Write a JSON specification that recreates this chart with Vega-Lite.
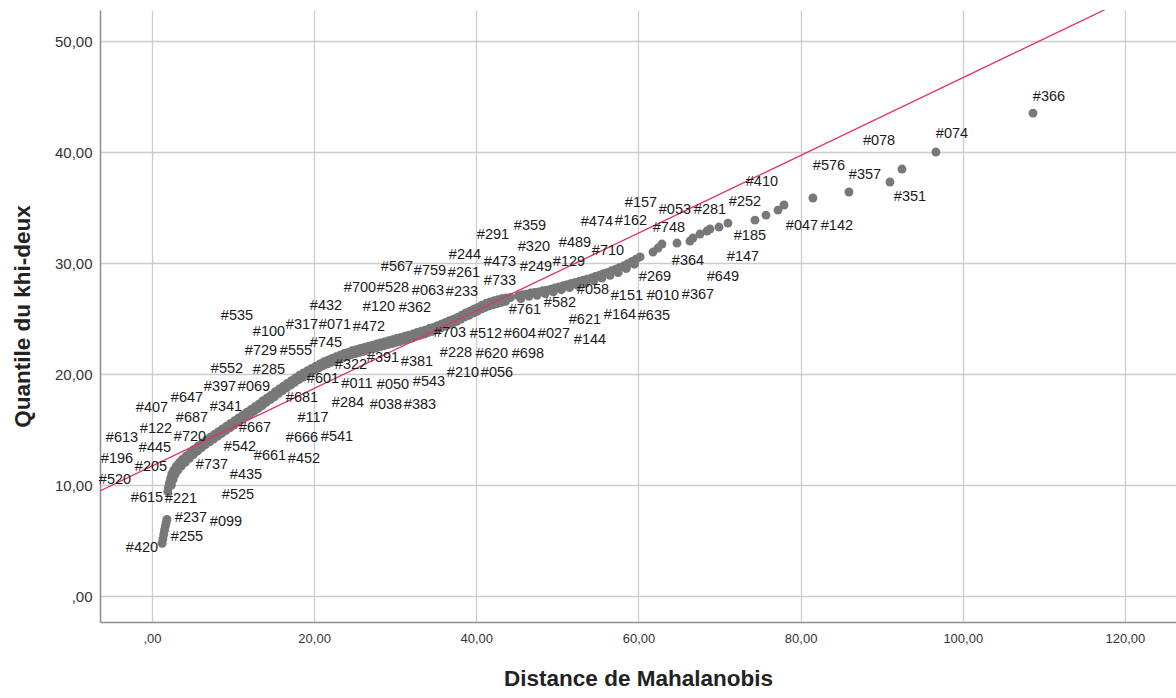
{
  "$schema": "https://vega.github.io/schema/vega-lite/v6.json",
  "width": 1076,
  "height": 612,
  "autosize": {"type": "none"},
  "padding": {"left": 100, "top": 10, "right": 0, "bottom": 76},
  "background": "white",
  "config": {
    "view": {"stroke": null},
    "axis": {
      "domainColor": "#8c8c8c",
      "domainWidth": 1.5,
      "gridColor": "#cccccc",
      "gridWidth": 1.3,
      "ticks": false,
      "labelFont": "Liberation Sans",
      "labelColor": "#333333",
      "titleFont": "Liberation Sans",
      "titleFontWeight": "bold",
      "titleColor": "#222222"
    }
  },
  "datasets": {
    "pts": [
      {"x":1.25,"y":4.75},{"x":1.35,"y":5.15},{"x":1.45,"y":5.55},{"x":1.55,"y":5.95},{"x":1.65,"y":6.3},{"x":1.75,"y":6.6},{"x":1.85,"y":6.9},
      {"x":1.95,"y":9.4},{"x":2.05,"y":9.8},{"x":2.15,"y":10.2},{"x":2.3,"y":10.6},{"x":2.45,"y":11.0},{"x":2.7,"y":11.35},{"x":3.0,"y":11.7},{"x":3.35,"y":12.0},{"x":3.75,"y":12.3},{"x":4.2,"y":12.6},{"x":4.7,"y":12.9},{"x":5.2,"y":13.2},{"x":5.7,"y":13.5},{"x":6.2,"y":13.8},{"x":6.7,"y":14.05},{"x":7.2,"y":14.3},{"x":7.7,"y":14.55},{"x":8.2,"y":14.8},{"x":8.7,"y":15.05},{"x":9.2,"y":15.3},{"x":9.7,"y":15.55},{"x":10.2,"y":15.8},{"x":10.7,"y":16.05},{"x":11.2,"y":16.3},{"x":11.7,"y":16.55},{"x":12.2,"y":16.8},{"x":12.7,"y":17.05},{"x":13.2,"y":17.3},{"x":13.7,"y":17.6},{"x":14.2,"y":17.85},{"x":14.7,"y":18.1},{"x":15.2,"y":18.4},{"x":15.7,"y":18.65},{"x":16.2,"y":18.9},{"x":16.7,"y":19.15},{"x":17.2,"y":19.4},{"x":17.7,"y":19.65},{"x":18.2,"y":19.9},{"x":18.7,"y":20.1},{"x":19.2,"y":20.3},{"x":19.7,"y":20.5},{"x":20.2,"y":20.7},{"x":20.7,"y":20.9},{"x":21.2,"y":21.1},{"x":21.7,"y":21.25},{"x":22.2,"y":21.4},{"x":22.7,"y":21.55},{"x":23.2,"y":21.7},{"x":23.7,"y":21.85},{"x":24.2,"y":21.95},{"x":24.7,"y":22.1},{"x":25.2,"y":22.2},{"x":25.7,"y":22.3},{"x":26.2,"y":22.4},{"x":26.7,"y":22.5},{"x":27.2,"y":22.6},{"x":27.7,"y":22.7},{"x":28.2,"y":22.8},{"x":28.7,"y":22.9},{"x":29.2,"y":23.0},{"x":29.7,"y":23.1},{"x":30.2,"y":23.2},{"x":30.7,"y":23.3},{"x":31.2,"y":23.4},{"x":31.7,"y":23.5},{"x":32.2,"y":23.6},{"x":32.7,"y":23.75},{"x":33.2,"y":23.85},{"x":33.7,"y":23.95},{"x":34.2,"y":24.1},{"x":34.7,"y":24.2},{"x":35.2,"y":24.35},{"x":35.7,"y":24.5},{"x":36.2,"y":24.65},{"x":36.7,"y":24.8},{"x":37.2,"y":24.95},{"x":37.7,"y":25.1},{"x":38.2,"y":25.3},{"x":38.7,"y":25.5},{"x":39.2,"y":25.65},{"x":39.7,"y":25.85},{"x":40.2,"y":26.0},{"x":40.7,"y":26.2},{"x":41.2,"y":26.35},{"x":41.7,"y":26.5},{"x":42.2,"y":26.6},{"x":42.7,"y":26.7},{"x":43.2,"y":26.8},{"x":43.7,"y":26.85},{"x":44.2,"y":26.9},
      {"x":2.4,"y":10.0},{"x":2.6,"y":10.5},{"x":2.85,"y":10.95},{"x":3.2,"y":11.35},{"x":3.6,"y":11.7},{"x":4.1,"y":12.05},{"x":4.6,"y":12.4},{"x":5.1,"y":12.75},{"x":5.6,"y":13.05},{"x":6.1,"y":13.35},{"x":6.6,"y":13.65},{"x":7.1,"y":13.9},{"x":7.6,"y":14.15},{"x":8.1,"y":14.4},{"x":8.6,"y":14.65},{"x":9.1,"y":14.9},{"x":9.6,"y":15.15},{"x":10.1,"y":15.4},{"x":10.6,"y":15.65},{"x":11.1,"y":15.9},{"x":11.6,"y":16.15},{"x":12.1,"y":16.4},{"x":12.6,"y":16.65},{"x":13.1,"y":16.9},{"x":13.6,"y":17.15},{"x":14.1,"y":17.45},{"x":14.6,"y":17.7},{"x":15.1,"y":17.95},{"x":15.6,"y":18.25},{"x":16.1,"y":18.5},{"x":16.6,"y":18.75},{"x":17.1,"y":19.0},{"x":17.6,"y":19.25},{"x":18.1,"y":19.5},{"x":18.6,"y":19.7},{"x":19.1,"y":19.95},{"x":19.6,"y":20.15},{"x":20.1,"y":20.35},{"x":20.6,"y":20.55},{"x":21.1,"y":20.75},{"x":21.6,"y":20.9},{"x":22.1,"y":21.05},{"x":22.6,"y":21.2},{"x":23.1,"y":21.35},{"x":23.6,"y":21.5},{"x":24.1,"y":21.6},{"x":24.6,"y":21.75},{"x":25.1,"y":21.85},{"x":25.6,"y":21.95},{"x":26.1,"y":22.05},{"x":26.6,"y":22.15},{"x":27.1,"y":22.25},{"x":27.6,"y":22.35},{"x":28.1,"y":22.45},{"x":28.6,"y":22.55},{"x":29.1,"y":22.65},{"x":29.6,"y":22.75},{"x":30.1,"y":22.85},{"x":30.6,"y":22.95},{"x":31.1,"y":23.05},{"x":31.6,"y":23.15},{"x":32.1,"y":23.25},{"x":32.6,"y":23.4},{"x":33.1,"y":23.5},{"x":33.6,"y":23.6},{"x":34.1,"y":23.75},{"x":34.6,"y":23.85},{"x":35.1,"y":24.0},{"x":35.6,"y":24.15},{"x":36.1,"y":24.3},{"x":36.6,"y":24.45},{"x":37.1,"y":24.6},{"x":37.6,"y":24.75},{"x":38.1,"y":24.95},{"x":38.6,"y":25.15},{"x":39.1,"y":25.3},{"x":39.6,"y":25.5},{"x":40.1,"y":25.65},{"x":40.6,"y":25.85},{"x":41.1,"y":26.0},{"x":41.6,"y":26.15},{"x":42.1,"y":26.25},{"x":42.6,"y":26.35},{"x":43.1,"y":26.45},{"x":43.6,"y":26.55},
      {"x":45.2,"y":27.05},{"x":45.7,"y":27.15},{"x":46.2,"y":27.2},{"x":46.7,"y":27.3},{"x":47.2,"y":27.35},{"x":47.7,"y":27.4},{"x":48.2,"y":27.5},{"x":48.7,"y":27.55},{"x":49.2,"y":27.65},{"x":49.7,"y":27.75},{"x":50.2,"y":27.85},{"x":50.7,"y":27.95},{"x":51.2,"y":28.05},{"x":51.7,"y":28.15},{"x":52.2,"y":28.25},{"x":52.7,"y":28.35},{"x":53.2,"y":28.45},{"x":53.7,"y":28.55},{"x":54.2,"y":28.65},{"x":54.7,"y":28.8},{"x":55.2,"y":28.9},{"x":55.7,"y":29.05},{"x":56.2,"y":29.15},{"x":56.7,"y":29.3},{"x":57.2,"y":29.45},{"x":57.7,"y":29.6},{"x":58.2,"y":29.75},{"x":58.7,"y":29.95},{"x":59.2,"y":30.15},{"x":59.7,"y":30.35},{"x":60.2,"y":30.55},
      {"x":45.5,"y":26.8},{"x":46.5,"y":27.0},{"x":47.5,"y":27.1},{"x":48.5,"y":27.25},{"x":49.5,"y":27.4},{"x":50.5,"y":27.6},{"x":51.5,"y":27.8},{"x":52.5,"y":28.0},{"x":53.5,"y":28.2},{"x":54.5,"y":28.4},{"x":55.5,"y":28.65},{"x":56.5,"y":28.9},{"x":57.5,"y":29.15},{"x":58.5,"y":29.5},{"x":59.5,"y":29.9},
      {"x":61.79,"y":30.99},{"x":62.41,"y":31.35},{"x":62.9,"y":31.71},{"x":64.75,"y":31.8},{"x":66.35,"y":31.98},{"x":66.72,"y":32.25},{"x":67.59,"y":32.61},{"x":68.45,"y":32.88},{"x":68.82,"y":33.06},{"x":69.93,"y":33.24},{"x":71.04,"y":33.6},{"x":74.37,"y":33.87},{"x":75.73,"y":34.32},{"x":77.21,"y":34.77},{"x":77.95,"y":35.23},{"x":81.52,"y":35.86},{"x":85.96,"y":36.4},{"x":91.02,"y":37.3},{"x":92.5,"y":38.47},{"x":96.69,"y":40.0},{"x":108.66,"y":43.51}
    ],
    "ref": [
      {"x":-6.41,"y":9.46},{"x":126.3,"y":55.9}
    ],
    "labs": [
      {"lab":"#366","x":110.63,"y":44.95},{"lab":"#078","x":89.67,"y":40.99},{"lab":"#074","x":98.67,"y":41.62},{"lab":"#576","x":83.5,"y":38.74},{"lab":"#357","x":87.94,"y":37.93},{"lab":"#351","x":93.49,"y":35.95},{"lab":"#410","x":75.23,"y":37.3},{"lab":"#252","x":73.14,"y":35.5},{"lab":"#157","x":60.31,"y":35.41},{"lab":"#053","x":64.5,"y":34.77},{"lab":"#281","x":68.82,"y":34.77},{"lab":"#047","x":80.17,"y":33.33},{"lab":"#142","x":84.48,"y":33.33},{"lab":"#474","x":54.88,"y":33.69},{"lab":"#162","x":59.08,"y":33.78},{"lab":"#748","x":63.76,"y":33.15},{"lab":"#185","x":73.75,"y":32.43},{"lab":"#291","x":42.06,"y":32.52},{"lab":"#359","x":46.62,"y":33.33},{"lab":"#320","x":47.11,"y":31.44},{"lab":"#489","x":52.17,"y":31.8},{"lab":"#710","x":56.24,"y":31.08},{"lab":"#244","x":38.6,"y":30.72},{"lab":"#473","x":42.92,"y":30.09},{"lab":"#249","x":47.36,"y":29.64},{"lab":"#129","x":51.43,"y":30.09},{"lab":"#147","x":72.89,"y":30.54},{"lab":"#364","x":66.11,"y":30.18},{"lab":"#567","x":30.22,"y":29.64},{"lab":"#759","x":34.29,"y":29.28},{"lab":"#261","x":38.48,"y":29.1},{"lab":"#269","x":62.04,"y":28.74},{"lab":"#649","x":70.42,"y":28.74},{"lab":"#733","x":42.92,"y":28.38},{"lab":"#700","x":25.65,"y":27.75},{"lab":"#528","x":29.72,"y":27.75},{"lab":"#063","x":34.04,"y":27.48},{"lab":"#233","x":38.23,"y":27.39},{"lab":"#058","x":54.39,"y":27.57},{"lab":"#151","x":58.58,"y":27.03},{"lab":"#010","x":63.02,"y":27.03},{"lab":"#367","x":67.34,"y":27.12},{"lab":"#582","x":50.32,"y":26.4},{"lab":"#761","x":46.0,"y":25.77},{"lab":"#432","x":21.46,"y":26.13},{"lab":"#120","x":28.0,"y":26.04},{"lab":"#362","x":32.44,"y":25.95},{"lab":"#535","x":10.48,"y":25.23},{"lab":"#164","x":57.72,"y":25.32},{"lab":"#635","x":61.91,"y":25.23},{"lab":"#621","x":53.4,"y":24.86},{"lab":"#317","x":18.5,"y":24.41},{"lab":"#071","x":22.57,"y":24.41},{"lab":"#472","x":26.76,"y":24.23},{"lab":"#100","x":14.43,"y":23.78},{"lab":"#703","x":36.75,"y":23.69},{"lab":"#512","x":41.19,"y":23.6},{"lab":"#604","x":45.39,"y":23.6},{"lab":"#027","x":49.58,"y":23.6},{"lab":"#144","x":54.02,"y":23.06},{"lab":"#745","x":21.46,"y":22.79},{"lab":"#729","x":13.44,"y":22.07},{"lab":"#555","x":17.76,"y":22.07},{"lab":"#228","x":37.49,"y":21.89},{"lab":"#620","x":41.93,"y":21.8},{"lab":"#698","x":46.37,"y":21.8},{"lab":"#391","x":28.49,"y":21.44},{"lab":"#381","x":32.68,"y":21.08},{"lab":"#322","x":24.54,"y":20.81},{"lab":"#552","x":9.25,"y":20.45},{"lab":"#285","x":14.43,"y":20.36},{"lab":"#210","x":38.36,"y":20.09},{"lab":"#056","x":42.55,"y":20.09},{"lab":"#601","x":21.09,"y":19.55},{"lab":"#543","x":34.16,"y":19.28},{"lab":"#011","x":25.28,"y":19.1},{"lab":"#050","x":29.72,"y":19.01},{"lab":"#397","x":8.39,"y":18.83},{"lab":"#069","x":12.58,"y":18.83},{"lab":"#647","x":4.32,"y":17.84},{"lab":"#681","x":18.5,"y":17.84},{"lab":"#284","x":24.17,"y":17.39},{"lab":"#038","x":28.86,"y":17.21},{"lab":"#383","x":33.05,"y":17.21},{"lab":"#407","x":0.0,"y":16.94},{"lab":"#341","x":9.13,"y":17.03},{"lab":"#117","x":19.86,"y":16.04},{"lab":"#687","x":4.93,"y":16.04},{"lab":"#122","x":0.49,"y":15.05},{"lab":"#667","x":12.7,"y":15.14},{"lab":"#720","x":4.69,"y":14.32},{"lab":"#613","x":-3.7,"y":14.23},{"lab":"#666","x":18.5,"y":14.23},{"lab":"#541","x":22.82,"y":14.32},{"lab":"#445","x":0.37,"y":13.33},{"lab":"#542","x":10.85,"y":13.42},{"lab":"#661","x":14.55,"y":12.61},{"lab":"#452","x":18.75,"y":12.34},{"lab":"#196","x":-4.32,"y":12.34},{"lab":"#205","x":-0.12,"y":11.62},{"lab":"#737","x":7.4,"y":11.8},{"lab":"#435","x":11.59,"y":10.9},{"lab":"#520","x":-4.56,"y":10.45},{"lab":"#525","x":10.61,"y":9.1},{"lab":"#615","x":-0.62,"y":8.83},{"lab":"#221","x":3.58,"y":8.74},{"lab":"#237","x":4.81,"y":7.03},{"lab":"#099","x":9.13,"y":6.67},{"lab":"#255","x":4.32,"y":5.32},{"lab":"#420","x":-1.23,"y":4.32}
    ]
  },
  "encoding": {
    "x": {
      "field": "x", "type": "quantitative",
      "scale": {"domain": [-6.41, 126.3], "nice": false, "zero": false},
      "axis": {
        "title": "Distance de Mahalanobis",
        "values": [0, 20, 40, 60, 80, 100, 120],
        "labelExpr": "datum.value == 0 ? ',00' : replace(format(datum.value, '.2f'), '.', ',')",
        "labelFontSize": 13,
        "labelPadding": 10,
        "titleFontSize": 22.5,
        "titlePadding": 22
      }
    },
    "y": {
      "field": "y", "type": "quantitative",
      "scale": {"domain": [-2.34, 52.8], "nice": false, "zero": false},
      "axis": {
        "title": "Quantile du khi-deux",
        "values": [0, 10, 20, 30, 40, 50],
        "labelExpr": "datum.value == 0 ? ',00' : replace(format(datum.value, '.2f'), '.', ',')",
        "labelFontSize": 15,
        "labelPadding": 8,
        "titleFontSize": 22.5,
        "titlePadding": 20
      }
    }
  },
  "layer": [
    {
      "data": {"name": "pts"},
      "mark": {"type": "circle", "size": 80, "color": "#787878", "opacity": 1}
    },
    {
      "data": {"name": "ref"},
      "mark": {"type": "line", "color": "#e3345e", "strokeWidth": 1.3, "clip": true}
    },
    {
      "data": {"name": "labs"},
      "mark": {"type": "text", "font": "Liberation Sans", "fontSize": 14.5, "color": "#1a1a1a", "align": "center", "baseline": "middle"},
      "encoding": {"text": {"field": "lab", "type": "nominal"}}
    }
  ]
}
